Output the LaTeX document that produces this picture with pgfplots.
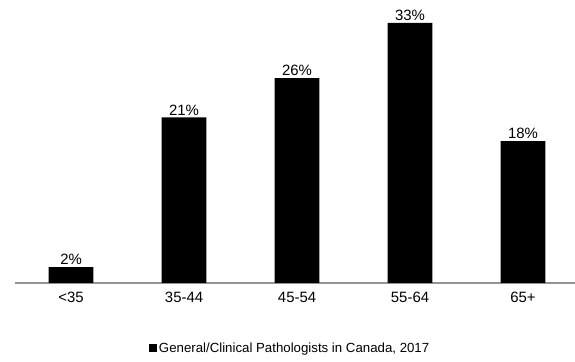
\documentclass[border=0pt]{standalone}
\usepackage{fontspec}
\setmainfont{Liberation Sans}
\usepackage{pgfplots}
\pgfplotsset{compat=1.18}

\begin{document}
\begin{tikzpicture}
\path[use as bounding box] (0,0) rectangle (575bp,362bp);
\begin{axis}[
    at={(14.6bp,79bp)}, anchor=south west,
    scale only axis,
    width=560.4bp, height=283bp,
    ybar, bar width=44.7bp,
    xmin=-0.5, xmax=4.46,
    ymin=0, ymax=35.9,
    axis x line*=bottom,
    axis y line=none,
    x axis line style={draw=gray!85, line width=1.2bp},
    xtick=data,
    xticklabels={<35, 35-44, 45-54, 55-64, 65+},
    major tick length=0pt,
    /pgf/number format/assume math mode=true,
    xticklabel style={font=\fontsize{15}{18}\selectfont, yshift=-6bp},
    nodes near coords={\pgfmathprintnumber{\pgfplotspointmeta}\%},
    nodes near coords style={font=\fontsize{15}{18}\selectfont, inner sep=2bp},
    legend style={at={(0.492,-0.23)}, anchor=center, draw=none,
        font=\fontsize{13.3}{16}\selectfont, inner sep=0pt},
    legend image code/.code={\fill[black] (0bp,-3.8bp) rectangle (7.6bp,3.8bp);},
]
\addplot[fill=black, draw=none] coordinates {(0,2) (1,21) (2,26) (3,33) (4,18)};
\addlegendentry{General/Clinical Pathologists in Canada, 2017}
\end{axis}
\end{tikzpicture}
\end{document}
